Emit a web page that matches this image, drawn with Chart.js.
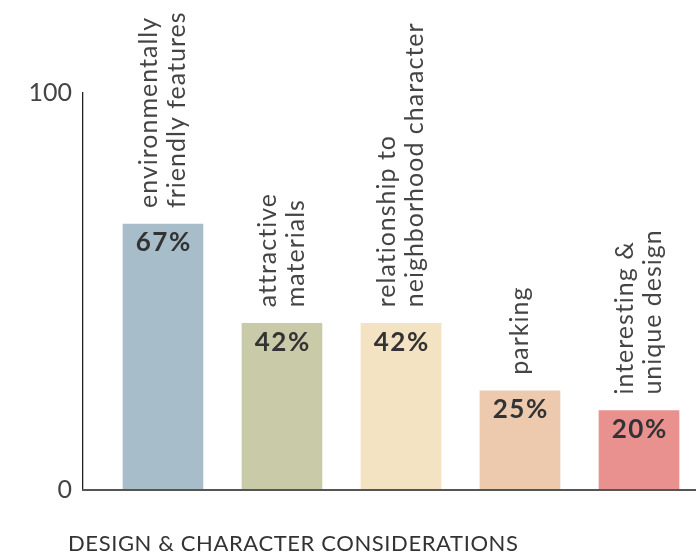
<!DOCTYPE html>
<html>
<head>
<meta charset="utf-8">
<script src="https://cdn.jsdelivr.net/npm/chart.js@4.4.1/dist/chart.umd.min.js"></script>
<style>
  html, body { margin: 0; padding: 0; background: #ffffff; }
  #c { display: block; }
</style>
</head>
<body>
<canvas id="c" width="696" height="554"></canvas>
<script>
// ---- data ----
const categories = [
  ['environmentally', 'friendly features'],
  ['attractive', 'materials'],
  ['relationship to', 'neighborhood character'],
  ['parking'],
  ['interesting &', 'unique design']
];
const values = [67, 42, 42, 25, 20];
const valueLabels = ['67%', '42%', '42%', '25%', '20%'];
const barColors = ['#A7BDCA', '#C9CBA8', '#F3E3C3', '#EDC9AE', '#E8918F'];
const yTicks = [0, 100];
const axisTitle = 'DESIGN & CHARACTER CONSIDERATIONS';

const FONT = 'Lato, "Open Sans", sans-serif';

const labelPlugin = {
  id: 'barLabels',
  afterDraw(chart) {
    const ctx = chart.ctx;
    const meta = chart.getDatasetMeta(0);
    meta.data.forEach((bar, i) => {
      const x = bar.x, top = bar.y;
      // value label inside bar
      ctx.save();
      ctx.font = '700 26px ' + FONT;
      ctx.fillStyle = '#333333';
      ctx.textAlign = 'center';
      ctx.textBaseline = 'middle';
      ctx.letterSpacing = '1.5px';
      ctx.fillText(valueLabels[i], x + 0.75, top + 19);
      ctx.restore();
      // rotated category label above bar
      const lines = categories[i];
      ctx.save();
      ctx.translate(x, top - 16);
      ctx.rotate(-Math.PI / 2);
      ctx.font = '400 25px ' + FONT;
      ctx.fillStyle = '#444444';
      ctx.textAlign = 'left';
      ctx.textBaseline = 'middle';
      ctx.letterSpacing = '1px';
      lines.forEach((ln, j) => {
        const off = (j - (lines.length - 1) / 2) * 28;
        ctx.fillText(ln, 0, off);
      });
      ctx.restore();
    });
    // axis title
    ctx.save();
    ctx.font = '400 22px ' + FONT;
    ctx.fillStyle = '#333333';
    ctx.textAlign = 'left';
    ctx.textBaseline = 'middle';
    ctx.letterSpacing = '0.6px';
    ctx.fillText(axisTitle, 68, 544);
    ctx.restore();
  }
};

new Chart(document.getElementById('c'), {
  type: 'bar',
  data: {
    datasets: [{
      data: values.map((v, i) => ({ x: i, y: v })),
      backgroundColor: barColors,
      borderWidth: 0,
      barThickness: 80
    }]
  },
  options: {
    responsive: false,
    animation: false,
    devicePixelRatio: 1,
    layout: { padding: { left: 0, top: 93, right: 0, bottom: 64 } },
    plugins: { legend: { display: false }, tooltip: { enabled: false }, title: { display: false } },
    scales: {
      x: {
        type: 'linear',
        offset: false,
        min: -0.672,
        max: 4.479,
        ticks: { display: false },
        grid: { display: false, drawTicks: false },
        border: { display: true, color: '#555555', width: 2, z: 1 },
        afterFit: s => { s.height = 0; }
      },
      y: {
        min: 0,
        max: 100,
        afterBuildTicks: s => { s.ticks = yTicks.map(v => ({ value: v })); },
        ticks: { font: { family: FONT, size: 25, weight: 400 }, color: '#444444', padding: 11 },
        grid: { display: false, drawTicks: false },
        border: { display: true, color: '#222222', width: 1.3 },
        afterFit: s => { s.width = 83; }
      }
    }
  },
  plugins: [labelPlugin]
});
</script>
</body>
</html>
